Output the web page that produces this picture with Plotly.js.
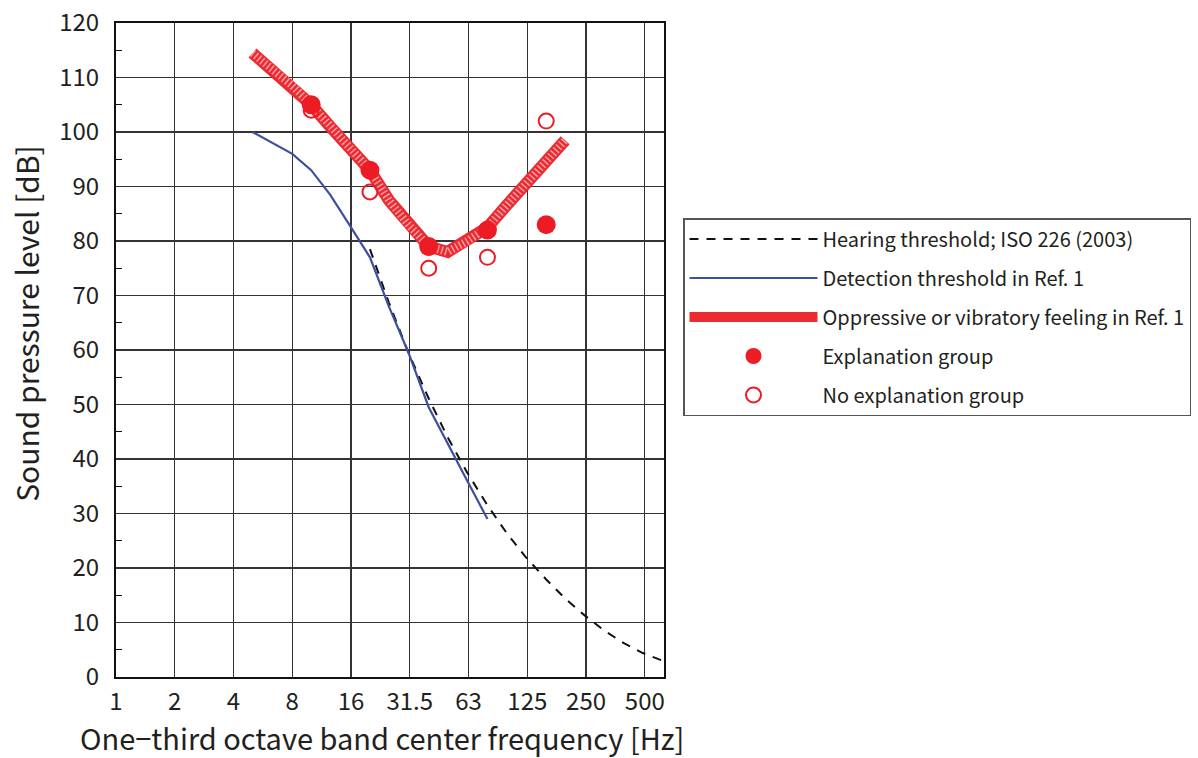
<!DOCTYPE html>
<html>
<head>
<meta charset="utf-8">
<script src="https://cdn.plot.ly/plotly-3.0.1.min.js"></script>
<style>html,body{margin:0;padding:0;background:#fff;}#chart{width:1198px;height:758px;}</style>
</head>
<body>
<div id="chart"></div>
<script>
// Hearing threshold, ISO 226 (2003)
const isoFreq = [20, 25, 31.5, 40, 50, 63, 80, 100, 125, 160, 200, 250, 315, 400, 500, 630];
const isoSPL  = [78.5, 68.7, 59.5, 51.1, 44.0, 37.5, 31.5, 26.5, 22.1, 17.9, 14.4, 11.4, 8.6, 6.2, 4.4, 3.0];
// Detection threshold in Ref. 1
const detFreq = [5, 6.3, 8, 10, 12.5, 16, 20, 25, 31.5, 40, 50, 63, 80];
const detSPL  = [100, 98, 96, 93, 88.5, 82.5, 77, 68, 59.5, 49.5, 43, 36, 29];
// Oppressive or vibratory feeling in Ref. 1
const oppFreq = [5, 6.3, 8, 10, 12.5, 16, 20, 25, 31.5, 40, 50, 63, 80, 100, 125, 160, 200];
const oppSPL  = [114.5, 111.5, 108.5, 105, 101, 97, 93, 87.5, 83, 79, 78, 80, 82.5, 86.5, 90.5, 95, 98.5];
// Groups
const expFreq = [10, 20, 40, 80, 160];
const expSPL  = [105, 93, 79, 82, 83];
const noExpFreq = [10, 20, 40, 80, 160];
const noExpSPL  = [104, 89, 75, 77, 102];
// Axis ticks
const xTickVals = [1, 2, 4, 8, 16, 32, 64, 128, 256, 512];
const xTickText = ['1', '2', '4', '8', '16', '31.5', '63', '125', '250', '500'];
const yTickVals = [0, 10, 20, 30, 40, 50, 60, 70, 80, 90, 100, 110, 120];
const yMinorVals = [5, 15, 25, 35, 45, 55, 65, 75, 85, 95, 105, 115];
const legendNames = ['Hearing threshold; ISO 226 (2003)', 'Detection threshold in Ref. 1',
  'Oppressive or vibratory feeling in Ref. 1', 'Explanation group', 'No explanation group'];
const xTitle = 'One\u2212third octave band center frequency [Hz]';
const yTitle = 'Sound pressure level [dB]';

const FONT = '"Noto Sans CJK JP", "Noto Sans", sans-serif';
const RED = '#ed1c24';

const traces = [
  {x: isoFreq, y: isoSPL, type: 'scatter', mode: 'lines', name: legendNames[0],
   line: {color: '#111', width: 2, dash: '9px,8px'}, legendgroup: 'a', legendrank: 1},
  {x: detFreq, y: detSPL, type: 'scatter', mode: 'lines', name: legendNames[1],
   line: {color: '#3d4f9f', width: 2.2}, legendgroup: 'b', legendrank: 2},
  {x: oppFreq, y: oppSPL, type: 'scatter', mode: 'lines', name: legendNames[2],
   line: {color: '#ec2a32', width: 12}, legendgroup: 'c', legendrank: 3},
  {x: oppFreq, y: oppSPL, type: 'scatter', mode: 'lines', showlegend: false, hoverinfo: 'skip',
   line: {color: 'rgba(255,255,255,0.55)', width: 8, dash: '1.5px,2.5px'}, legendgroup: 'c'},
  {x: noExpFreq, y: noExpSPL, type: 'scatter', mode: 'markers', name: legendNames[4],
   marker: {symbol: 'circle-open', size: 15, color: RED, line: {width: 2, color: RED}},
   legendgroup: 'e', legendrank: 5},
  {x: expFreq, y: expSPL, type: 'scatter', mode: 'markers', name: legendNames[3],
   marker: {symbol: 'circle', size: 19, color: RED},
   legendgroup: 'd', legendrank: 4}
];

const layout = {
  width: 1198, height: 758,
  margin: {l: 116, r: 534, t: 23, b: 81},
  paper_bgcolor: '#fff', plot_bgcolor: '#fff',
  font: {family: FONT, color: '#231f20'},
  showlegend: true,
  legend: {
    xref: 'container', yref: 'container',
    x: 683 / 1198, xanchor: 'left', y: 1 - 218 / 758, yanchor: 'top',
    bordercolor: '#555', borderwidth: 1.5, bgcolor: '#fff',
    font: {family: FONT, size: 20, color: '#231f20'},
    itemwidth: 128, tracegroupgap: 10, traceorder: 'grouped'
  },
  xaxis: {
    type: 'log', range: [0, Math.log10(642)],
    tickvals: xTickVals, ticktext: xTickText,
    showgrid: true, gridcolor: '#333', gridwidth: 1.2,
    showline: true, linecolor: '#111', linewidth: 2, mirror: true,
    ticks: '', zeroline: false, ticklabelstandoff: 2,
    tickfont: {family: FONT, size: 24, color: '#231f20'},
    title: {text: ''}
  },
  yaxis: {
    range: [0, 120], tickvals: yTickVals,
    showgrid: true, gridcolor: '#333', gridwidth: 1.2,
    showline: true, linecolor: '#111', linewidth: 2, mirror: true,
    ticks: '', zeroline: false, ticklabelstandoff: 10,
    tickfont: {family: FONT, size: 24, color: '#231f20'},
    minor: {tickvals: yMinorVals, ticks: 'inside', ticklen: 6, tickcolor: '#111', tickwidth: 1.2, showgrid: false},
    title: {text: ''}
  },
  annotations: [{
    text: yTitle, xref: 'paper', yref: 'paper',
    x: -0.163, y: 0.541, xanchor: 'center', yanchor: 'middle', textangle: -90,
    showarrow: false, font: {family: FONT, size: 30, color: '#231f20'}
  }, {
    text: xTitle, xref: 'paper', yref: 'paper',
    x: (382 - 116) / 548, y: (677 - 737) / 654, xanchor: 'center', yanchor: 'middle',
    showarrow: false, font: {family: FONT, size: 29, color: '#231f20'}
  }]
};

Plotly.newPlot('chart', traces, layout, {displayModeBar: false, staticPlot: true});
</script>
</body>
</html>
